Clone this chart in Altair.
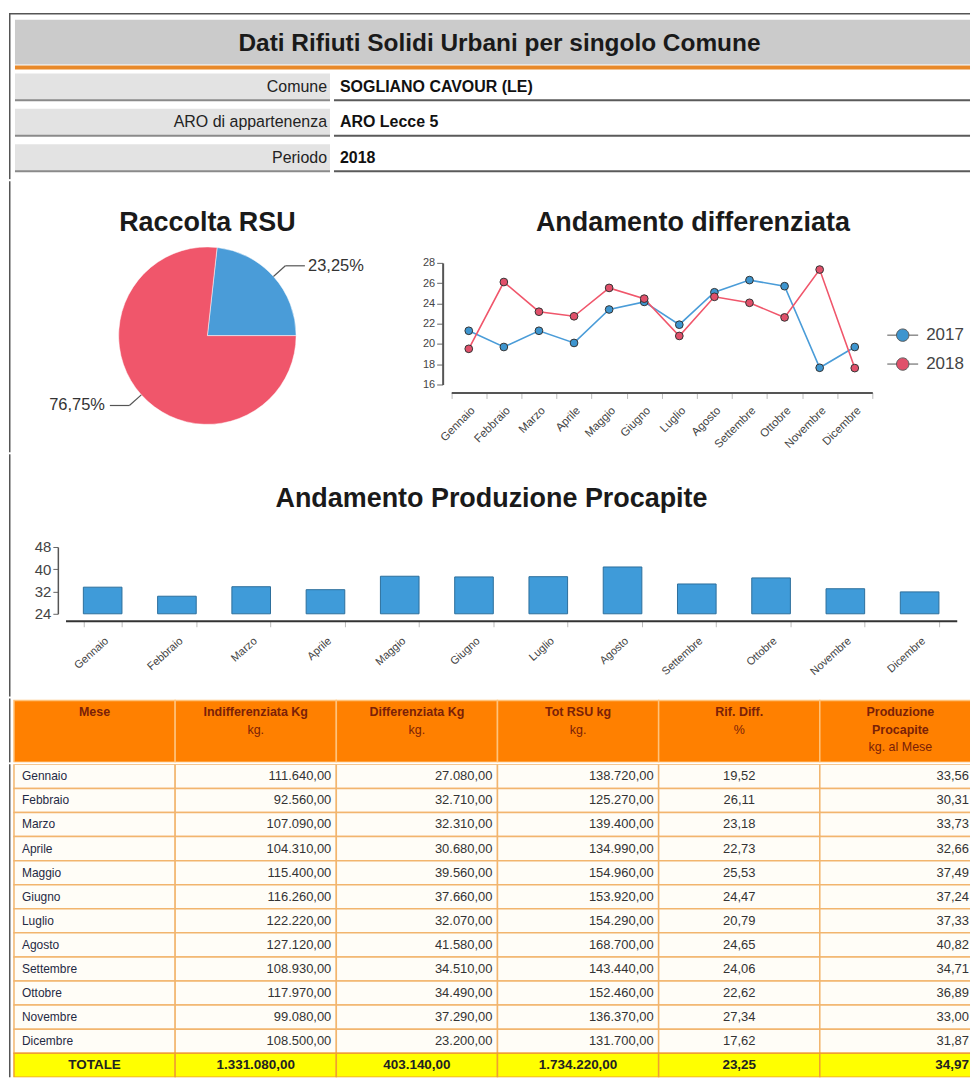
import math
import altair as alt
import pandas as pd

FONT = "Liberation Sans, Arial, sans-serif"

# ---------------- data ----------------
titolo = "Dati Rifiuti Solidi Urbani per singolo Comune"
campi = ["Comune", "ARO di appartenenza", "Periodo"]
valori = ["SOGLIANO CAVOUR (LE)", "ARO Lecce 5", "2018"]

mesi = ["Gennaio", "Febbraio", "Marzo", "Aprile", "Maggio", "Giugno",
        "Luglio", "Agosto", "Settembre", "Ottobre", "Novembre", "Dicembre"]
indiff = [111640, 92560, 107090, 104310, 115400, 116260, 122220, 127120, 108930, 117970, 99080, 108500]
diff = [27080, 32710, 32310, 30680, 39560, 37660, 32070, 41580, 34510, 34490, 37290, 23200]
tot = [138720, 125270, 139400, 134990, 154960, 153920, 154290, 168700, 143440, 152460, 136370, 131700]
rif_2018 = [19.52, 26.11, 23.18, 22.73, 25.53, 24.47, 20.79, 24.65, 24.06, 22.62, 27.34, 17.62]
rif_2017 = [21.3, 19.7, 21.3, 20.1, 23.4, 24.15, 21.9, 25.1, 26.3, 25.7, 17.65, 19.7]
procapite = [33.56, 30.31, 33.73, 32.66, 37.49, 37.24, 37.33, 40.82, 34.71, 36.89, 33.00, 31.87]
anni = ["2017", "2018"]
totale_label = "TOTALE"
totali = [1331080, 403140, 1734220, 23.25, 34.97]

pie_cat = ["Differenziata", "Indifferenziata"]
pie_val = [23.25, 76.75]

titolo_pie = "Raccolta RSU"
titolo_linee = "Andamento differenziata"
titolo_barre = "Andamento Produzione Procapite"
y_ticks_linee = [16, 18, 20, 22, 24, 26, 28]
y_ticks_barre = [24, 32, 40, 48]

intest1 = ["Mese", "Indifferenziata Kg", "Differenziata Kg", "Tot RSU kg", "Rif. Diff.", "Produzione"]
intest2 = ["", "kg.", "kg.", "kg.", "%", "Procapite"]
intest3 = ["", "", "", "", "", "kg. al Mese"]


def it(v, dec=2):
    s = f"{v:,.{dec}f}"
    return s.replace(",", "X").replace(".", ",").replace("X", ".")


W = 964
one = alt.Chart(pd.DataFrame({"k": [0]}))


def frame(h, top=0):
    return one.mark_rule(color="#555555", strokeWidth=1.5).encode(
        x=alt.value(0.75), y=alt.value(top), y2=alt.value(h))


# ---------------- header ----------------
H_HEAD = 170
info = pd.DataFrame({"campo": campi, "valore": valori})
ysc_i = alt.Scale(domain=campi, range=[64, 162], paddingInner=0.24, paddingOuter=0)
Yi = alt.Y("campo:N", scale=ysc_i, axis=None)
Yi_end = alt.Y("campo:N", scale=ysc_i, axis=None, bandPosition=1)
hb = alt.Chart(info)
head_layers = [
    one.mark_rule(color="#555555", strokeWidth=1.5).encode(x=alt.value(0), x2=alt.value(W), y=alt.value(4)),
    frame(H_HEAD, 4),
    alt.Chart(pd.DataFrame({"t": [titolo]})).mark_rect(fill="#cbcbcb").encode(
        x=alt.value(6), x2=alt.value(W), y=alt.value(10), y2=alt.value(55)),
    alt.Chart(pd.DataFrame({"t": [titolo]})).mark_text(fontSize=24.5, fontWeight="bold", color="#1a1a1a").encode(
        x=alt.value(492), y=alt.value(34), text="t:N"),
    one.mark_rule(color="#e8892a", strokeWidth=4).encode(x=alt.value(6), x2=alt.value(W), y=alt.value(58)),
    hb.mark_rect(fill="#e3e3e3").encode(x=alt.value(6), x2=alt.value(322), y=Yi),
    hb.mark_rect(fill="#ffffff").encode(x=alt.value(326), x2=alt.value(W), y=Yi),
    hb.mark_rule(color="#8a8a8a", strokeWidth=2).encode(x=alt.value(6), x2=alt.value(322), y=Yi_end),
    hb.mark_rule(color="#5a5a5a", strokeWidth=2).encode(x=alt.value(326), x2=alt.value(W), y=Yi_end),
    hb.mark_text(align="right", fontSize=16, color="#222222").encode(x=alt.value(319), y=Yi, text="campo:N"),
    hb.mark_text(align="left", fontSize=16, fontWeight="bold", color="#111111").encode(
        x=alt.value(332), y=Yi, text="valore:N"),
]
header = alt.layer(*head_layers).properties(width=W, height=H_HEAD)

# ---------------- pie ----------------
PW, PH = 390, 272
R = 89
CX, CY = 199, 155
xs = alt.Scale(domain=[-CX / R, (PW - CX) / R], nice=False, zero=False)
ys = alt.Scale(domain=[-(PH - CY) / R, CY / R], nice=False, zero=False)
pie_df = pd.DataFrame({"categoria": pie_cat, "valore": pie_val,
                       "etichetta": [it(v) + "%" for v in pie_val]})
pbase = alt.Chart(pie_df)
arc = pbase.mark_arc(radius=R, stroke="#ffffff", strokeWidth=0.5).encode(
    theta=alt.Theta("valore:Q", stack=True,
                    scale=alt.Scale(range=[math.pi / 2, math.pi / 2 + 2 * math.pi])),
    color=alt.Color("categoria:N", scale=alt.Scale(domain=pie_cat, range=["#4a9cd8", "#f0566b"]), legend=None),
    order=alt.Order("categoria:N", sort="descending"),
    x=alt.X(datum=0, scale=xs, axis=None),
    y=alt.Y(datum=0, scale=ys, axis=None),
)
lead = (pbase
        .transform_joinaggregate(totv="sum(valore)")
        .transform_window(cum="sum(valore)", sort=[alt.SortField("categoria", order="descending")],
                          frame=[None, 0])
        .transform_calculate(mid="PI/2 + 2*PI*(datum.cum - datum.valore/2)/datum.totv")
        .transform_calculate(s="sin(datum.mid)")
        .transform_calculate(c="cos(datum.mid)")
        .transform_calculate(x1="1.0*datum.s")
        .transform_calculate(y1="1.0*datum.c")
        .transform_calculate(x2="1.18*datum.s")
        .transform_calculate(y2="1.18*datum.c")
        .transform_calculate(x3="datum.x2 + (datum.s > 0 ? 0.22 : -0.22)")
        .transform_calculate(xt="datum.x3 + (datum.s > 0 ? 0.35 : -0.37)"))
rule1 = lead.mark_rule(color="#555555", strokeWidth=1.2).encode(
    x=alt.X("x1:Q", scale=xs, axis=None), y=alt.Y("y1:Q", scale=ys, axis=None),
    x2="x2:Q", y2="y2:Q")
rule2 = lead.mark_rule(color="#555555", strokeWidth=1.2).encode(
    x=alt.X("x2:Q", scale=xs, axis=None), y=alt.Y("y2:Q", scale=ys, axis=None),
    x2="x3:Q", y2="y2:Q")
ptext = lead.mark_text(fontSize=16.5, color="#333333").encode(
    x=alt.X("xt:Q", scale=xs, axis=None), y=alt.Y("y2:Q", scale=ys, axis=None), text="etichetta:N")
ptitle = alt.Chart(pd.DataFrame({"t": [titolo_pie]})).mark_text(
    fontSize=27, fontWeight="bold", color="#1a1a1a").encode(
    x=alt.X(datum=0, scale=xs, axis=None), y=alt.value(42), text="t:N")
pie = alt.layer(frame(PH), arc, rule1, rule2, ptext, ptitle).properties(width=PW, height=PH)

# ---------------- line chart ----------------
LW, LH = W - PW, PH
ln_df = pd.DataFrame({"mese": mesi * 2, "anno": [anni[0]] * 12 + [anni[1]] * 12,
                      "valore": rif_2017 + rif_2018})
xsc_l = alt.Scale(domain=mesi, range=[53.6, 476], paddingInner=0, paddingOuter=0)
ysc_l = alt.Scale(domain=[16, 28], range=[204, 82], nice=False, zero=False)
Xl = alt.X("mese:N", scale=xsc_l, sort=mesi,
           axis=alt.Axis(title=None, offset=-60, labelAngle=-45, labelFontSize=11.5, labelColor="#444444",
                         tickBand="extent", tickColor="#bbbbbb", tickSize=6, domainColor="#555555",
                         domainWidth=2, labelPadding=6, grid=False))
Yl = alt.Y("valore:Q", scale=ysc_l,
           axis=alt.Axis(title=None, offset=-45, values=y_ticks_linee, labelFontSize=11, labelColor="#444444",
                         tickSize=6, tickColor="#666666", domainColor="#555555", domainWidth=2, grid=False))
LEG_PATH = "M-2,0L-0.8,0M0.8,0L2,0M-0.8,0A0.8,0.8,0,1,1,0.8,0A0.8,0.8,0,1,1,-0.8,0Z"
lines = alt.Chart(ln_df).mark_line(strokeWidth=1.6).encode(
    x=Xl, y=Yl,
    color=alt.Color("anno:N", scale=alt.Scale(domain=anni, range=["#8fcde8", "#f39aa6"]), legend=None))
pts = alt.Chart(ln_df).mark_circle(size=60, stroke="#333333", strokeWidth=1, opacity=1).encode(
    x=Xl, y=Yl,
    fill=alt.Fill("anno:N", scale=alt.Scale(domain=anni, range=["#3d95cf", "#e0506a"]),
                  legend=alt.Legend(title=None, orient="none", legendX=888, legendY=318,
                                    symbolType=LEG_PATH, symbolSize=240, symbolStrokeColor="#555555",
                                    symbolStrokeWidth=1, labelFontSize=17, labelColor="#444444",
                                    labelOffset=15, rowPadding=11, padding=0)))
ltitle = alt.Chart(pd.DataFrame({"t": [titolo_linee]})).mark_text(
    fontSize=27, fontWeight="bold", color="#1a1a1a").encode(
    x=alt.value(296), y=alt.value(42), text="t:N")
linechart = alt.layer(lines, pts, ltitle).properties(width=LW, height=LH)

# ---------------- bar chart ----------------
BH = 243
bar_df = pd.DataFrame({"mese": mesi, "procapite": procapite})
xsc_b = alt.Scale(domain=mesi, range=[56.7, 950.7], paddingInner=0.48, paddingOuter=0.24)
ysc_b = alt.Scale(domain=[24, 48], range=[160, 93], nice=False, zero=False)
bars = alt.Chart(bar_df).mark_bar(fill="#3f9bd9", stroke="#2c6e9c", strokeWidth=1).encode(
    x=alt.X("mese:N", scale=xsc_b, sort=mesi,
            axis=alt.Axis(title=None, offset=-76, labelAngle=-42, labelFontSize=11, labelColor="#444444",
                          tickBand="extent", tickColor="#bbbbbb", tickSize=6, domainColor="#333333",
                          domainWidth=2, labelPadding=8, grid=False)),
    y=alt.Y("procapite:Q", scale=ysc_b,
            axis=alt.Axis(title=None, offset=-49, values=y_ticks_barre, labelFontSize=15, labelColor="#444444",
                          tickSize=5, tickColor="#666666", domainColor="#555555", domainWidth=1.5, grid=False)),
    y2=alt.datum(24),
)
btitle = alt.Chart(pd.DataFrame({"t": [titolo_barre]})).mark_text(
    fontSize=27, fontWeight="bold", color="#1a1a1a").encode(
    x=alt.value(484), y=alt.value(45), text="t:N")
barchart = alt.layer(frame(BH), bars, btitle).properties(width=W, height=BH)

# ---------------- table header ----------------
TH = 64
tsc = alt.Scale(domain=intest1, range=[5, 975], paddingInner=0, paddingOuter=0)
rows_h = []
for j, c in enumerate(intest1):
    for r, (txt, bold) in enumerate([(intest1[j], True), (intest2[j], c == "Produzione"), (intest3[j], False)]):
        if txt:
            rows_h.append({"col": c, "riga": r + 1, "testo": txt, "bold": bold})
th_df = pd.DataFrame(rows_h)
cols_df = pd.DataFrame({"col": intest1})
Xt = alt.X("col:N", scale=tsc, axis=None, sort=intest1)
Yt = alt.Y("riga:O", scale=alt.Scale(type="point", domain=[1, 2, 3], range=[14, 49], padding=0), axis=None)
th_rect = alt.Chart(cols_df).mark_rect(fill="#ff8000", stroke="#ffc27a", strokeWidth=1.5, clip=True).encode(
    x=Xt, y=alt.value(2), y2=alt.value(TH))
th_bold = alt.Chart(th_df).transform_filter("datum.bold").mark_text(
    fontSize=12.5, fontWeight="bold", color="#7a2108").encode(x=Xt, y=Yt, text="testo:N")
th_reg = alt.Chart(th_df).transform_filter("!datum.bold").mark_text(
    fontSize=12.5, color="#7a2108").encode(x=Xt, y=Yt, text="testo:N")
thead = alt.layer(frame(TH), th_rect, th_bold, th_reg).properties(width=W, height=TH)

# ---------------- table body ----------------
TB = 314
righe = mesi + [totale_label]
body = []
for i, m in enumerate(mesi):
    vals = [m, it(indiff[i]), it(diff[i]), it(tot[i]), it(rif_2018[i]), it(procapite[i])]
    kinds = ["sx", "dx", "dx", "dx", "c", "dx6"]
    for c, v, k in zip(intest1, vals, kinds):
        body.append({"riga": m, "col": c, "testo": v, "tipo": k, "tot": False})
tvals = [totale_label] + [it(v) for v in totali]
tkinds = ["c", "c", "c", "c", "c", "dx6"]
for c, v, k in zip(intest1, tvals, tkinds):
    body.append({"riga": totale_label, "col": c, "testo": v, "tipo": k, "tot": True})
tb_df = pd.DataFrame(body)
Yb = alt.Y("riga:N", scale=alt.Scale(domain=righe, paddingInner=0, paddingOuter=0), axis=None, sort=righe)
Xb = alt.X("col:N", scale=tsc, axis=None, sort=intest1)
Xb0 = alt.X("col:N", scale=tsc, axis=None, sort=intest1, bandPosition=0)
Xb1 = alt.X("col:N", scale=tsc, axis=None, sort=intest1, bandPosition=1)
tbb = alt.Chart(tb_df)
body_layers = [
    tbb.transform_filter("!datum.tot").mark_rect(fill="#fffdf7", stroke="#f2b56e", strokeWidth=1.5, clip=True).encode(
        x=Xb, y=Yb),
    tbb.transform_filter("datum.tot").mark_rect(fill="#ffff00", stroke="#f0a030", strokeWidth=1.5, clip=True).encode(
        x=Xb, y=Yb),
    tbb.transform_filter("!datum.tot && datum.tipo == 'sx'").mark_text(
        align="left", dx=8, fontSize=12, color="#1f2a44").encode(x=Xb0, y=Yb, text="testo:N"),
    tbb.transform_filter("!datum.tot && datum.tipo == 'dx'").mark_text(
        align="right", dx=-5, fontSize=13, color="#333333").encode(x=Xb1, y=Yb, text="testo:N"),
    tbb.transform_filter("!datum.tot && datum.tipo == 'c'").mark_text(
        fontSize=13, color="#333333").encode(x=Xb, y=Yb, text="testo:N"),
    tbb.transform_filter("!datum.tot && datum.tipo == 'dx6'").mark_text(
        align="right", dx=-12, fontSize=13, color="#333333").encode(x=Xb1, y=Yb, text="testo:N"),
    tbb.transform_filter("datum.tot && datum.tipo == 'c'").mark_text(
        fontSize=13.5, fontWeight="bold", color="#222222").encode(x=Xb, y=Yb, text="testo:N"),
    tbb.transform_filter("datum.tot && datum.tipo == 'dx6'").mark_text(
        align="right", dx=-12, fontSize=13.5, fontWeight="bold", color="#222222").encode(x=Xb1, y=Yb, text="testo:N"),
    frame(TB),
]
tbody = alt.layer(*body_layers).properties(width=W, height=TB)

chart = alt.vconcat(
    header,
    alt.hconcat(pie, linechart, spacing=0),
    barchart,
    thead,
    tbody,
    spacing=0,
).properties(padding=0, background="white").configure(
    font=FONT, view=alt.ViewConfig(stroke=None))

chart.save("out.html", embed_options={"renderer": "svg", "actions": False})
